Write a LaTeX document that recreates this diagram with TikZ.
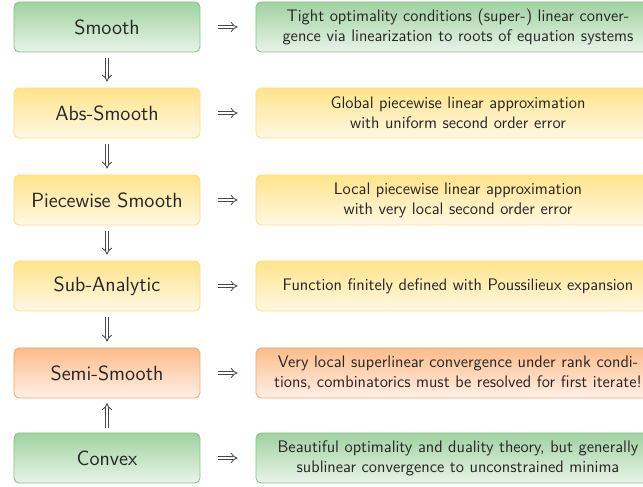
\documentclass[tikz,border=0pt]{standalone}
\usepackage{amssymb}
\usetikzlibrary{arrows.meta}

\definecolor{greenTop}{HTML}{A0D2A0}
\definecolor{greenBot}{HTML}{E8F4E8}
\definecolor{greenEdge}{HTML}{86C286}
\definecolor{yellowTop}{HTML}{FFE48A}
\definecolor{yellowBot}{HTML}{FFF8E4}
\definecolor{yellowEdge}{HTML}{FFDD80}
\definecolor{orangeTop}{HTML}{FCBC8A}
\definecolor{orangeBot}{HTML}{FFF0E6}
\definecolor{orangeEdge}{HTML}{F6A86C}

\tikzset{
  box/.style={draw, rounded corners=0.13cm, line width=0.6pt, inner sep=0pt,
    minimum height=1.25cm, font=\sffamily, text=black!85},
  classbox/.style={box, minimum width=4.65cm, font=\sffamily\fontsize{14.6}{17}\selectfont},
  notebox/.style={box, minimum width=10.1cm, text width=10.1cm, align=center,
    font=\sffamily\fontsize{11.9}{14.2}\selectfont},
  greenbox/.style={draw=greenEdge, top color=greenTop, bottom color=greenBot},
  yellowbox/.style={draw=yellowEdge, top color=yellowTop, bottom color=yellowBot},
  orangebox/.style={draw=orangeEdge, top color=orangeTop, bottom color=orangeBot},
  implies/.style={draw=black!72, double, double distance=1.9pt, line width=0.6pt,
    -{Implies}, shorten <=#1, shorten >=#1},
  implies/.default=0.45cm
}

\begin{document}
\begin{tikzpicture}[x=0.025cm, y=-0.025cm]
		%%%%% START %%%%%
		\useasboundingbox (0, 0) rectangle (643, 486);
		
		\node[classbox, greenbox] (smooth) at (107, 27) {Smooth};
		\node[classbox, yellowbox] (abs) at (107, 113) {Abs-Smooth};
		\node[classbox, yellowbox] (pws) at (107, 200) {Piecewise Smooth};
		\node[classbox, yellowbox] (suban) at (107, 286) {Sub-Analytic};
		\node[classbox, orangebox] (semi) at (107, 373) {Semi-Smooth};
		\node[classbox, greenbox] (convex) at (107, 458) {Convex};
		
		\node[notebox, greenbox] (smoothR) at (458, 27)
			{Tight optimality conditions (super-) linear conver-\\gence via linearization to roots of equation systems};
		\node[notebox, yellowbox] (absR) at (458, 113)
			{Global piecewise linear approximation\\with uniform second order error};
		\node[notebox, yellowbox] (pwsR) at (458, 200)
			{Local piecewise linear approximation\\with very local second order error};
		\node[notebox, yellowbox] (subanR) at (458, 286)
			{Function finitely defined with Poussilieux expansion};
		\node[notebox, orangebox] (semiR) at (458, 373)
			{Very local superlinear convergence under rank condi-\\tions, combinatorics must be resolved for first iterate!};
		\node[notebox, greenbox] (convexR) at (458, 458)
			{Beautiful optimality and duality theory, but generally\\sublinear convergence to unconstrained minima};
		
		% implications to the right
		\draw[implies] (smooth) -- (smoothR);
		\draw[implies] (abs) -- (absR);
		\draw[implies] (pws) -- (pwsR);
		\draw[implies] (suban) -- (subanR);
		\draw[implies] (semi) -- (semiR);
		\draw[implies] (convex) -- (convexR);
		
		% implications downwards
		\draw[implies=0.15cm] (smooth) -- (abs);
		\draw[implies=0.15cm] (abs) -- (pws);
		\draw[implies=0.15cm] (pws) -- (suban);
		\draw[implies=0.15cm] (suban) -- (semi);
		\draw[implies=0.12cm] (convex) -- (semi);
		
		%%%%% END %%%%%
	\end{tikzpicture}
\end{document}
